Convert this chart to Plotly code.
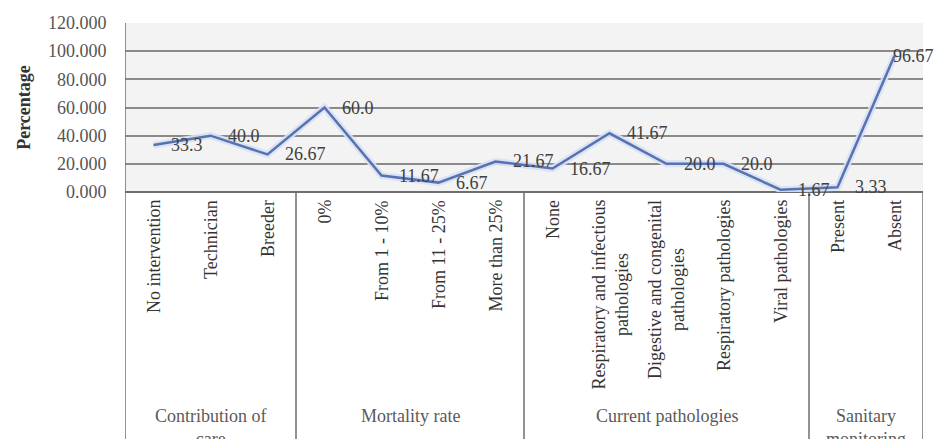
import plotly.graph_objects as go

groups = ["Contribution of<br>care", "Mortality rate", "Current pathologies", "Sanitary<br>monitoring"]
group_sizes = [3, 4, 5, 2]
categories = [
    "No intervention", "Technician", "Breeder",
    "0%", "From 1 - 10%", "From 11 - 25%", "More than 25%",
    "None", "Respiratory and infectious<br>pathologies", "Digestive and congenital<br>pathologies",
    "Respiratory pathologies", "Viral pathologies",
    "Present", "Absent",
]
values = [33.3, 40.0, 26.67, 60.0, 11.67, 6.67, 21.67, 16.67, 41.67, 20.0, 20.0, 1.67, 3.33, 96.67]
value_labels = ["33.3", "40.0", "26.67", "60.0", "11.67", "6.67", "21.67", "16.67", "41.67",
                "20.0", "20.0", "1.67", "3.33", "96.67"]
y_ticks = [0, 20, 40, 60, 80, 100, 120]

FONT = "Liberation Serif, Times New Roman, serif"
x_idx = list(range(len(categories)))

fig = go.Figure()
# soft halo under the line
fig.add_trace(go.Scatter(x=x_idx, y=values, mode="lines",
                         line=dict(color="rgba(215,225,245,0.9)", width=7),
                         hoverinfo="skip", showlegend=False))
fig.add_trace(go.Scatter(x=x_idx, y=values, mode="lines",
                         line=dict(color="#5872b0", width=2.5),
                         showlegend=False))

annotations = []
n_cat = len(categories)
for i, (v, lab) in enumerate(zip(values, value_labels)):
    annotations.append(dict(x=i, y=v, xref="x", yref="y", text=lab, showarrow=False,
                            xanchor="left", yanchor="middle",
                            xshift=15 if i < n_cat - 1 else -4,
                            font=dict(family=FONT, size=18, color="#404040")))
for i, cat in enumerate(categories):
    annotations.append(dict(x=i, y=0, xref="x", yref="paper", text=cat, showarrow=False,
                            textangle=-90, xanchor="center", yanchor="top", yshift=-6,
                            align="center",
                            font=dict(family=FONT, size=18, color="#333333")))

shapes = []
start = 0
bounds = [-0.5]
for g, n in zip(groups, group_sizes):
    center = start + (n - 1) / 2
    annotations.append(dict(x=center, y=0, xref="x", yref="paper", text=g, showarrow=False,
                            xanchor="center", yanchor="top", yshift=-212, align="center",
                            font=dict(family=FONT, size=18, color="#5a5a5a")))
    start += n
    bounds.append(start - 0.5)

for b in bounds:
    shapes.append(dict(type="line", xref="x", yref="paper", x0=b, x1=b, y0=0, y1=-1.7,
                       line=dict(color="#6e6e6e", width=1.5)))
# left axis line through plot area
shapes.append(dict(type="line", xref="x", yref="paper", x0=-0.5, x1=-0.5, y0=0, y1=1,
                   line=dict(color="#6e6e6e", width=1.5)))

fig.update_layout(
    width=937, height=439,
    margin=dict(l=125, r=14, t=23, b=247),
    paper_bgcolor="white",
    plot_bgcolor="#f3f3f3",
    annotations=annotations,
    shapes=shapes,
    xaxis=dict(range=[-0.5, n_cat - 0.5], showticklabels=False, showgrid=False,
               zeroline=False, showline=False, ticks="", automargin=False),
    yaxis=dict(range=[0, 120], tickvals=y_ticks, tickformat=".3f", automargin=False,
               showgrid=True, gridcolor="#8a8a8a", gridwidth=1.5,
               zeroline=True, zerolinecolor="#6e6e6e", zerolinewidth=1.5,
               ticks="outside", ticklen=14, tickcolor="rgba(0,0,0,0)",
               tickfont=dict(family=FONT, size=18, color="#555555"),
               title=dict(text="<b>Percentage</b>", standoff=12,
                          font=dict(family=FONT, size=18, color="#333333"))),
)

fig.write_html("out.html", config={"displayModeBar": False},
               post_script="document.body.style.margin='0';document.body.style.overflow='hidden';")
